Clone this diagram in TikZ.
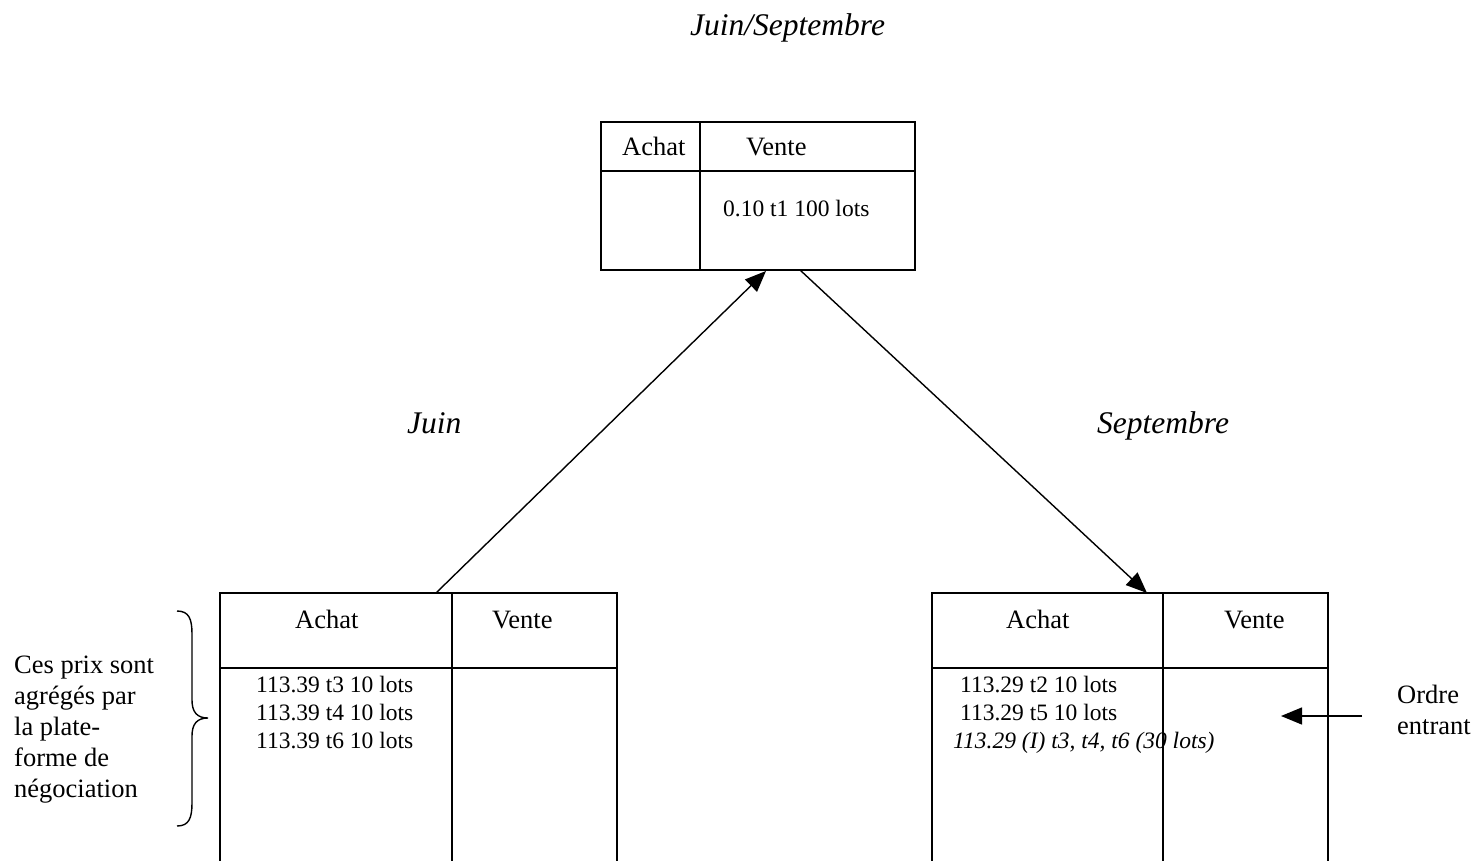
\documentclass[tikz,border=0pt]{standalone}
\usepackage{fontspec}
\setmainfont{Liberation Serif}
\usetikzlibrary{arrows.meta}
\begin{document}
\begin{tikzpicture}[x=1pt,y=-1pt,
  box/.style={draw,line width=1.6pt,rectangle,inner sep=0pt},
  rule/.style={line width=1.6pt},
  conn/.style={line width=1.4pt,-{Triangle[length=21pt,width=17pt]}},
  hd/.style={anchor=base west,inner sep=0pt,font=\fontsize{26.5}{31}\selectfont},
  sm/.style={anchor=base west,inner sep=0pt,font=\fontsize{23.5}{28}\selectfont},
  ttl/.style={anchor=base west,inner sep=0pt,font=\fontsize{31.5}{36}\selectfont\itshape},
  side/.style={anchor=base west,inner sep=0pt,font=\fontsize{26.5}{31}\selectfont}]
\useasboundingbox (0,0) rectangle (1474,861);
\clip (0,0) rectangle (1474,861);
\fill[white] (0,0) rectangle (1474,861);

% top box
\node[box,minimum width=314pt,minimum height=148pt] (T) at (758,196) {};
\draw[rule] (601,171) -- (915,171);
\draw[rule] (700,122) -- (700,270);
\node[hd] (ta) at (622,156) {Achat};
\node[hd] (tv) at (746,156) {Vente};
\node[sm] (tl) at (723,216) {0.10 t1 100 lots};

% left box
\node[box,minimum width=397pt,minimum height=320pt] (L) at (418.5,753) {};
\draw[rule] (220,668) -- (617,668);
\draw[rule] (452,593) -- (452,870);
\node[hd] (la) at (295,628) {Achat};
\node[hd] (lv) at (492,628) {Vente};
\node[sm] (l1) at (256,692) {113.39 t3 10 lots};
\node[sm] (l2) at (256,720) {113.39 t4 10 lots};
\node[sm] (l3) at (256,748) {113.39 t6 10 lots};

% right box
\node[box,minimum width=396pt,minimum height=320pt] (R) at (1130,753) {};
\draw[rule] (932,668) -- (1328,668);
\draw[rule] (1163,593) -- (1163,870);
\node[hd] (ra) at (1006,628) {Achat};
\node[hd] (rv) at (1224,628) {Vente};
\node[sm] (r1) at (960,692) {113.29 t2 10 lots};
\node[sm] (r2) at (960,720) {113.29 t5 10 lots};
\node[sm,font=\fontsize{23.5}{28}\selectfont\itshape] (r3) at (953,748) {113.29 (I) t3, t4, t6 (30 lots)};

% titles
\node[ttl] (t0) at (690,36) {Juin/Septembre};
\node[ttl] (t1) at (407,433) {Juin};
\node[ttl] (t2) at (1097,433) {Septembre};

% side notes
\node[side] (c1) at (14,673) {Ces prix sont};
\node[side] (c2) at (14,704) {agrégés par};
\node[side] (c3) at (14,735) {la plate-};
\node[side] (c4) at (14,766) {forme de};
\node[side] (c5) at (14,797) {négociation};
\node[side] (o1) at (1397,703) {Ordre};
\node[side] (o2) at (1397,734) {entrant};

% brace
\draw[line width=1.4pt] (177,611) .. controls (189,611) and (192,619) .. (192,634)
  -- (192,700) .. controls (192,712) and (197,718) .. (208,718)
  .. controls (197,718) and (192,724) .. (192,736)
  -- (192,803) .. controls (192,818) and (189,826) .. (177,826);

% connectors
\coordinate (lstart) at (436,593);
\coordinate (tend) at (766,271);
\coordinate (tstart) at (800,270);
\coordinate (rend) at (1147,593);
\coordinate (ostart) at (1362,716);
\coordinate (oend) at (1281,716);
\draw[conn] (lstart) -- (tend);
\draw[conn] (tstart) -- (rend);
\draw[conn] (ostart) -- (oend);
\end{tikzpicture}
\end{document}
